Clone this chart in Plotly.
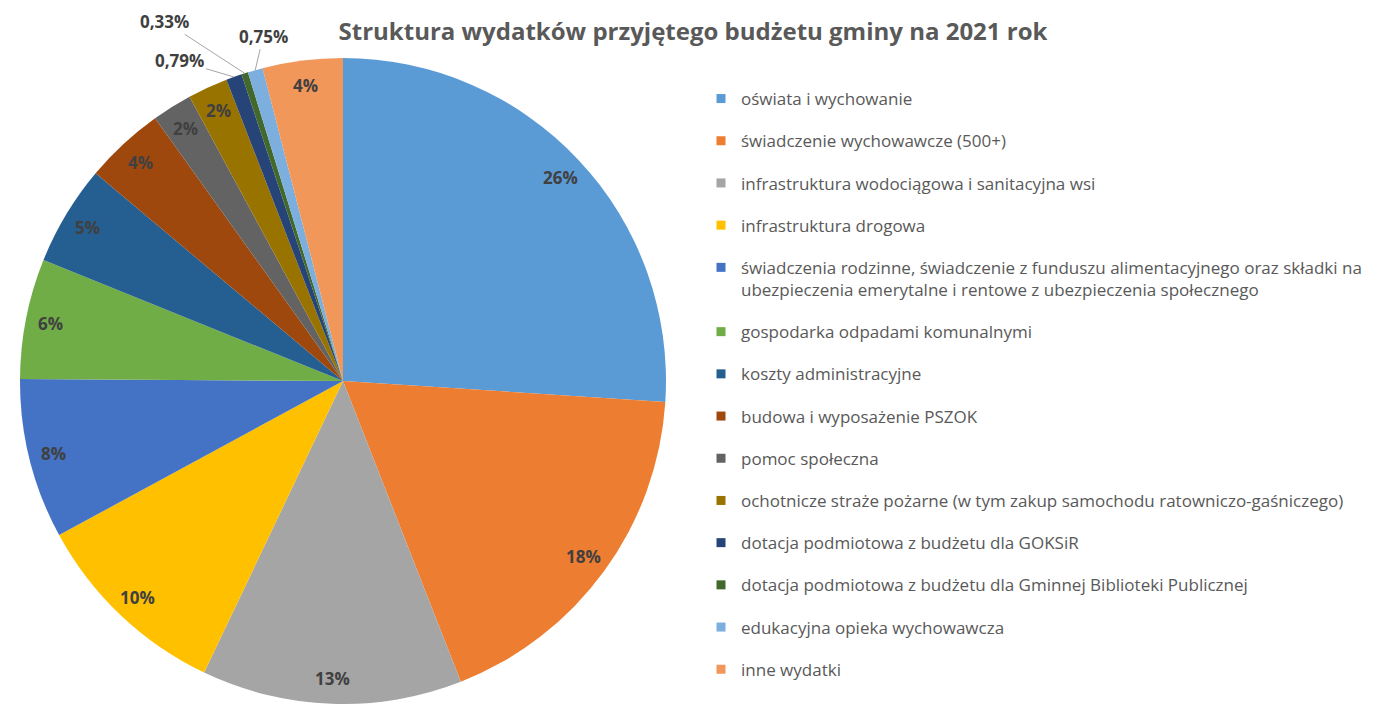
import math
import plotly.graph_objects as go

labels = [
    "oświata i wychowanie",
    "świadczenie wychowawcze (500+)",
    "infrastruktura wodociągowa i sanitacyjna wsi",
    "infrastruktura drogowa",
    "świadczenia rodzinne, świadczenie z funduszu alimentacyjnego oraz składki na<br>ubezpieczenia emerytalne i rentowe z ubezpieczenia społecznego",
    "gospodarka odpadami komunalnymi",
    "koszty administracyjne",
    "budowa i wyposażenie PSZOK",
    "pomoc społeczna",
    "ochotnicze straże pożarne (w tym zakup samochodu ratowniczo-gaśniczego)",
    "dotacja podmiotowa z budżetu dla GOKSiR",
    "dotacja podmiotowa z budżetu dla Gminnej Biblioteki Publicznej",
    "edukacyjna opieka wychowawcza",
    "inne wydatki",
]
values = [26, 18, 13, 10, 8, 6, 5, 4, 2, 2, 0.79, 0.33, 0.75, 4]
value_text = ["26%", "18%", "13%", "10%", "8%", "6%", "5%", "4%", "2%", "2%",
              "0,79%", "0,33%", "0,75%", "4%"]
colors = ["#5B9BD5", "#ED7D31", "#A5A5A5", "#FFC000", "#4472C4", "#70AD47",
          "#255E91", "#9E480E", "#636363", "#997300", "#264478", "#43682B",
          "#7CAFDD", "#F1975A"]
title = "Struktura wydatków przyjętego budżetu gminy na 2021 rok"

W, H = 1373, 704
FONT = "Open Sans"

# pie geometry (pixels)
cx, cy, R = 343, 381, 323
dom_x = [(cx - R) / W, (cx + R) / W]
dom_y = [(H - cy - R) / H, (H - cy + R) / H]

fig = go.Figure()
fig.add_trace(go.Pie(
    labels=[l.replace("<br>", " ") for l in labels],
    values=values,
    marker=dict(colors=colors, line=dict(width=0)),
    sort=False, direction="clockwise", rotation=0,
    textinfo="none", hoverinfo="label+percent",
    showlegend=False,
    domain=dict(x=dom_x, y=dom_y),
))

# legend entries via dummy traces
for lab, col in zip(labels, colors):
    fig.add_trace(go.Scatter(
        x=[None], y=[None], mode="markers", name=lab,
        legendgroup=lab,
        marker=dict(symbol="square", size=9, color=col),
        hoverinfo="skip",
    ))

total = sum(values)
annotations = []
cum = 0.0
small_offsets = {10: (-54, -16), 11: (-80, -52), 12: (8, -34)}
for i, v in enumerate(values):
    mid = (cum + v / 2) / total * 2 * math.pi
    cum += v
    if i in small_offsets:
        ex = cx + R * math.sin(mid)
        ey = cy - R * math.cos(mid)
        ax, ay = small_offsets[i]
        annotations.append(dict(
            x=ex / W, y=(H - ey) / H, xref="paper", yref="paper",
            text=f"<b>{value_text[i]}</b>", showarrow=True, arrowhead=0,
            arrowwidth=1, arrowcolor="#A6A6A6", ax=ax, ay=ay,
            font=dict(family=FONT, size=17, color="#404040"),
        ))
    else:
        rl = 298
        lx = cx + rl * math.sin(mid)
        ly = cy - rl * math.cos(mid)
        annotations.append(dict(
            x=lx / W, y=(H - ly) / H, xref="paper", yref="paper",
            text=f"<b>{value_text[i]}</b>", showarrow=False,
            xanchor="center", yanchor="middle",
            font=dict(family=FONT, size=17, color="#404040"),
        ))

fig.update_layout(
    width=W, height=H,
    margin=dict(l=0, r=0, t=0, b=0),
    paper_bgcolor="white", plot_bgcolor="white",
    title=dict(text=f"<b>{title}</b>", x=693 / W, xanchor="center",
               y=1 - 32 / H, yanchor="middle",
               font=dict(family=FONT, size=24, color="#595959")),
    xaxis=dict(visible=False), yaxis=dict(visible=False),
    legend=dict(x=701 / W, xanchor="left", y=1 - 81 / H, yanchor="top",
                font=dict(family=FONT, size=17, color="#595959"),
                tracegroupgap=17.1, valign="top", itemwidth=30,
                bgcolor="rgba(0,0,0,0)"),
    annotations=annotations,
    showlegend=True,
)

fig.write_html("out.html")
